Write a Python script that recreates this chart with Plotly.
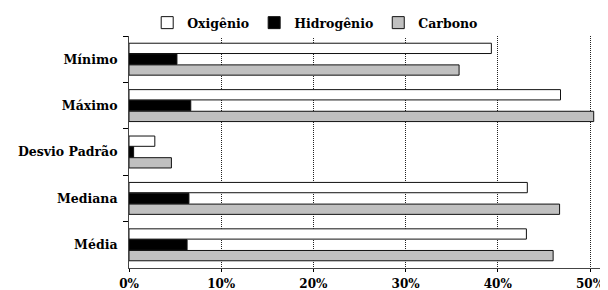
import plotly.graph_objects as go

categories = ["Mínimo", "Máximo", "Desvio Padrão", "Mediana", "Média"]
oxigenio = [0.393, 0.468, 0.028, 0.432, 0.431]
hidrogenio = [0.052, 0.067, 0.005, 0.065, 0.063]
carbono = [0.358, 0.504, 0.046, 0.467, 0.460]
series_names = ["Oxigênio", "Hidrogênio", "Carbono"]
colors = ["#ffffff", "#000000", "#c0c0c0"]
tick_vals = [0, 0.1, 0.2, 0.3, 0.4, 0.5]
tick_text = ["0%", "10%", "20%", "30%", "40%", "50%"]

font_family = "DejaVu Serif, serif"

fig = go.Figure()
for name, vals, col in zip(series_names, [oxigenio, hidrogenio, carbono], colors):
    fig.add_trace(go.Bar(
        y=categories, x=vals, name=name, orientation="h",
        marker=dict(color=col, line=dict(color="#111111", width=1)),
    ))

# page body adds 8px margin, so figure is 8px smaller than the window
fig.update_layout(
    width=600, height=282,
    margin=dict(l=121, r=0, t=28, b=22, autoexpand=False),
    paper_bgcolor="white", plot_bgcolor="white",
    barmode="group", bargap=0.3, bargroupgap=0.05,
    font=dict(family=font_family, size=12, color="black", weight="bold"),
    showlegend=True,
    legend=dict(orientation="h", xref="container", x=0.512, xanchor="center",
                yref="container", y=1.0, yanchor="top",
                font=dict(family=font_family, size=12.5, color="black", weight="bold"),
                traceorder="normal", itemwidth=30, tracegroupgap=0),
    xaxis=dict(range=[0, 0.5195], tickvals=tick_vals, ticktext=tick_text, automargin=False,
               showgrid=True, gridcolor="#222222", griddash="1px,1px", gridwidth=1.3,
               zeroline=False, showline=True, linecolor="#444444", linewidth=1,
               ticks="outside", ticklen=3, tickcolor="black", ticklabelstandoff=2,
               tickfont=dict(family=font_family, size=12, color="black", weight="bold")),
    yaxis=dict(autorange="reversed", showgrid=False, showline=True, linecolor="#444444",
               linewidth=1, ticks="outside", ticklen=5, tickcolor="black", automargin=False,
               tickson="boundaries", ticklabelstandoff=8,
               tickfont=dict(family=font_family, size=12.5, color="black", weight="bold")),
)

fig.write_html("out.html")
